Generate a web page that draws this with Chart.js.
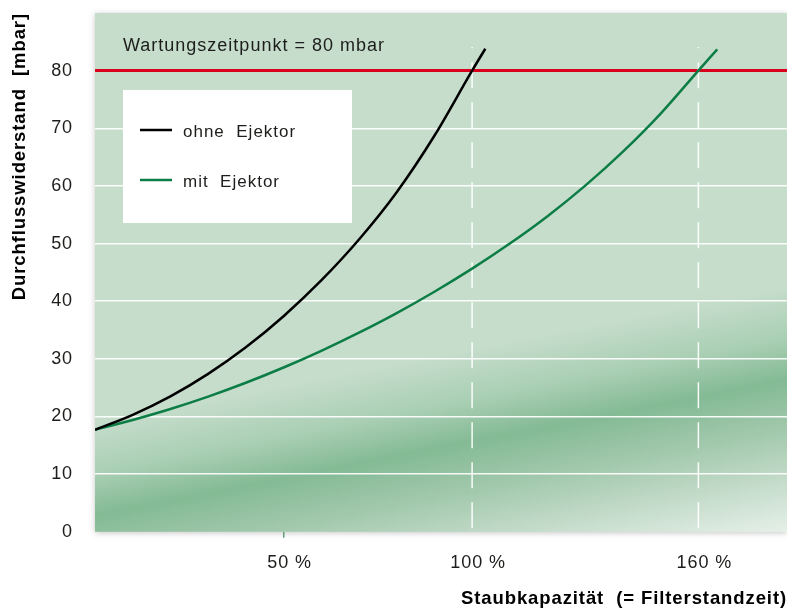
<!DOCTYPE html>
<html lang="de">
<head>
<meta charset="utf-8">
<title>Durchflusswiderstand</title>
<script src="https://cdn.jsdelivr.net/npm/chart.js@4/dist/chart.umd.min.js"></script>
<style>
    html, body { margin: 0; padding: 0; background: #fff; }
    #wrap { position: relative; width: 787px; height: 610px; }
</style>
</head>
<body>
<div id="wrap"><canvas id="chart"></canvas></div>
<script>
// ── Daten ──
const xOhne = [0, 10, 20, 30, 40, 50, 60, 70, 80, 90, 100, 103.5];
const ohneEjektor = [17.7, 20.3, 23.5, 27.4, 32.0, 37.4, 43.6, 50.7, 58.9, 68.7, 80, 83.8];

const xMit = [0, 10, 20, 30, 40, 50, 60, 70, 80, 90, 100, 110, 120, 130, 140, 150, 160, 165];
const mitEjektor = [17.7, 19.4, 21.3, 23.45, 25.85, 28.5, 31.4, 34.55, 37.95, 41.65, 45.65, 50.0, 54.75, 60.05, 65.95, 72.55, 80, 83.7];

const xTicks = [50, 100, 160];
const yTicks = [0, 10, 20, 30, 40, 50, 60, 70, 80];
const wartungsLimit = 80;
const markerX = [100, 160];
const markerTop = 84.1;
const xMax = 183.5;
const yMax = 90;

const FONT = "'Liberation Sans', Arial, Helvetica, sans-serif";
Chart.defaults.font.family = FONT;
Chart.defaults.color = '#1d1d1b';

const toPts = (xs, ys) => xs.map((x, i) => ({ x: x, y: ys[i] }));

// Hintergrund mit diagonalem Farbband
const hintergrund = {
    id: 'hintergrund',
    beforeDraw(chart) {
        const { ctx, chartArea: a } = chart;
        const w = a.right - a.left, h = a.bottom - a.top;
        const cx = a.left + w / 2;
        const cy = a.top + h * 0.8375;
        const len = Math.hypot(w, 0.261 * h);
        const nx = (0.261 * h) / len, ny = w / len;
        const g = ctx.createLinearGradient(cx - 200 * nx, cy - 200 * ny, cx + 160 * nx, cy + 160 * ny);
        g.addColorStop(0, '#c6ddcc');
        g.addColorStop(0.30, '#c6ddcc');
        g.addColorStop(0.44, '#aacfb4');
        g.addColorStop(0.556, '#84ba95');
        g.addColorStop(0.694, '#a3c9ad');
        g.addColorStop(0.833, '#c5dccb');
        g.addColorStop(0.972, '#e6f0e8');
        g.addColorStop(1, '#ebf3ec');
        ctx.save();
        ctx.shadowColor = 'rgba(0,0,0,0.22)';
        ctx.shadowBlur = 6;
        ctx.shadowOffsetY = 1;
        ctx.fillStyle = g;
        ctx.fillRect(a.left, a.top, w, h);
        ctx.restore();
    }
};

// etwas Laufweite wie im Original
const laufweite = {
    id: 'laufweite',
    beforeLayout(chart) { chart.ctx.letterSpacing = '0.9px'; },
    beforeDraw(chart) { chart.ctx.letterSpacing = '0.9px'; }
};

// Legende im weißen Kasten + Beschriftung Wartungszeitpunkt
const legendeBox = {
    id: 'legendeBox',
    beforeDatasetsDraw(chart) {
        const { ctx, chartArea: a } = chart;
        ctx.save();
        ctx.letterSpacing = '1px';
        ctx.font = '18px ' + FONT;
        ctx.fillStyle = '#1d1d1b';
        ctx.textBaseline = 'alphabetic';
        ctx.fillText('Wartungszeitpunkt = ' + wartungsLimit + ' mbar', a.left + 28, 51);

        ctx.fillStyle = '#ffffff';
        ctx.fillRect(a.left + 28, 90, 229, 133);

        ctx.font = '17px ' + FONT;
        const eintraege = chart.data.datasets.filter(d => d.inLegend);
        eintraege.forEach((d, i) => {
            const y = 130 + i * 50;
            ctx.strokeStyle = d.borderColor;
            ctx.lineWidth = 2.5;
            ctx.beginPath();
            ctx.moveTo(a.left + 45, y);
            ctx.lineTo(a.left + 77, y);
            ctx.stroke();
            ctx.fillStyle = '#1d1d1b';
            ctx.fillText(d.label, a.left + 88, y + 6.5);
        });
        ctx.restore();
    }
};

const datasets = [
    {
        label: 'ohne  Ejektor',
        inLegend: true,
        data: toPts(xOhne, ohneEjektor),
        borderColor: '#000000',
        borderWidth: 2.5,
        pointRadius: 0,
        cubicInterpolationMode: 'monotone'
    },
    {
        label: 'mit  Ejektor',
        inLegend: true,
        data: toPts(xMit, mitEjektor),
        borderColor: '#0b7d45',
        borderWidth: 2.5,
        pointRadius: 0,
        cubicInterpolationMode: 'monotone'
    }
];

markerX.forEach(x => {
    datasets.push({
        label: x + ' %',
        data: [{ x: x, y: 0 }, { x: x, y: markerTop }],
        borderColor: 'rgba(255,255,255,0.95)',
        borderWidth: 1.5,
        borderDash: [26, 14],
        borderDashOffset: 36.5,
        pointRadius: 0
    });
});

new Chart(document.getElementById('chart'), {
    type: 'line',
    data: { datasets: datasets },
    plugins: [laufweite, hintergrund, legendeBox],
    options: {
        responsive: true,
        maintainAspectRatio: false,
        animation: false,
        layout: { padding: { top: 13, left: 9, right: 0, bottom: 0 } },
        plugins: {
            legend: { display: false },
            tooltip: { enabled: false }
        },
        scales: {
            x: {
                type: 'linear',
                min: 0,
                max: xMax,
                afterBuildTicks: s => { s.ticks = xTicks.map(v => ({ value: v })); },
                afterFit: s => { s.height = 78.2; s.paddingLeft = 0; s.paddingRight = 0; },
                border: { display: false },
                grid: {
                    drawOnChartArea: false,
                    drawTicks: true,
                    tickLength: 6,
                    lineWidth: 1.5,
                    color: c => c.tick && c.tick.value === 50 ? '#5e9f78' : 'rgba(0,0,0,0)'
                },
                ticks: {
                    padding: 14,
                    labelOffset: 6,
                    maxRotation: 0,
                    font: { size: 18 },
                    callback: v => v + ' %'
                },
                title: {
                    display: true,
                    text: 'Staubkapazität  (= Filterstandzeit)',
                    align: 'end',
                    font: { size: 18.5, weight: 'bold' },
                    color: '#000',
                    padding: { top: 14, bottom: 0 }
                }
            },
            y: {
                min: 0,
                max: yMax,
                afterBuildTicks: s => { s.ticks = yTicks.map(v => ({ value: v })); },
                afterFit: s => { s.width = 86; s.paddingTop = 0; s.paddingBottom = 0; },
                border: { display: false },
                grid: {
                    drawTicks: false,
                    color: c => {
                        const v = c.tick ? c.tick.value : null;
                        if (v === 0) return 'rgba(0,0,0,0)';
                        if (v === wartungsLimit) return '#d8001d';
                        return 'rgba(255,255,255,0.92)';
                    },
                    lineWidth: c => (c.tick && c.tick.value === wartungsLimit) ? 3 : 1.5
                },
                ticks: {
                    padding: 22,
                    font: { size: 18 }
                },
                title: {
                    display: true,
                    text: 'Durchflusswiderstand  [mbar]',
                    align: 'end',
                    font: { size: 18.5, weight: 'bold' },
                    color: '#000',
                    padding: { top: 0, bottom: 20 }
                }
            }
        }
    }
});
</script>
</body>
</html>
